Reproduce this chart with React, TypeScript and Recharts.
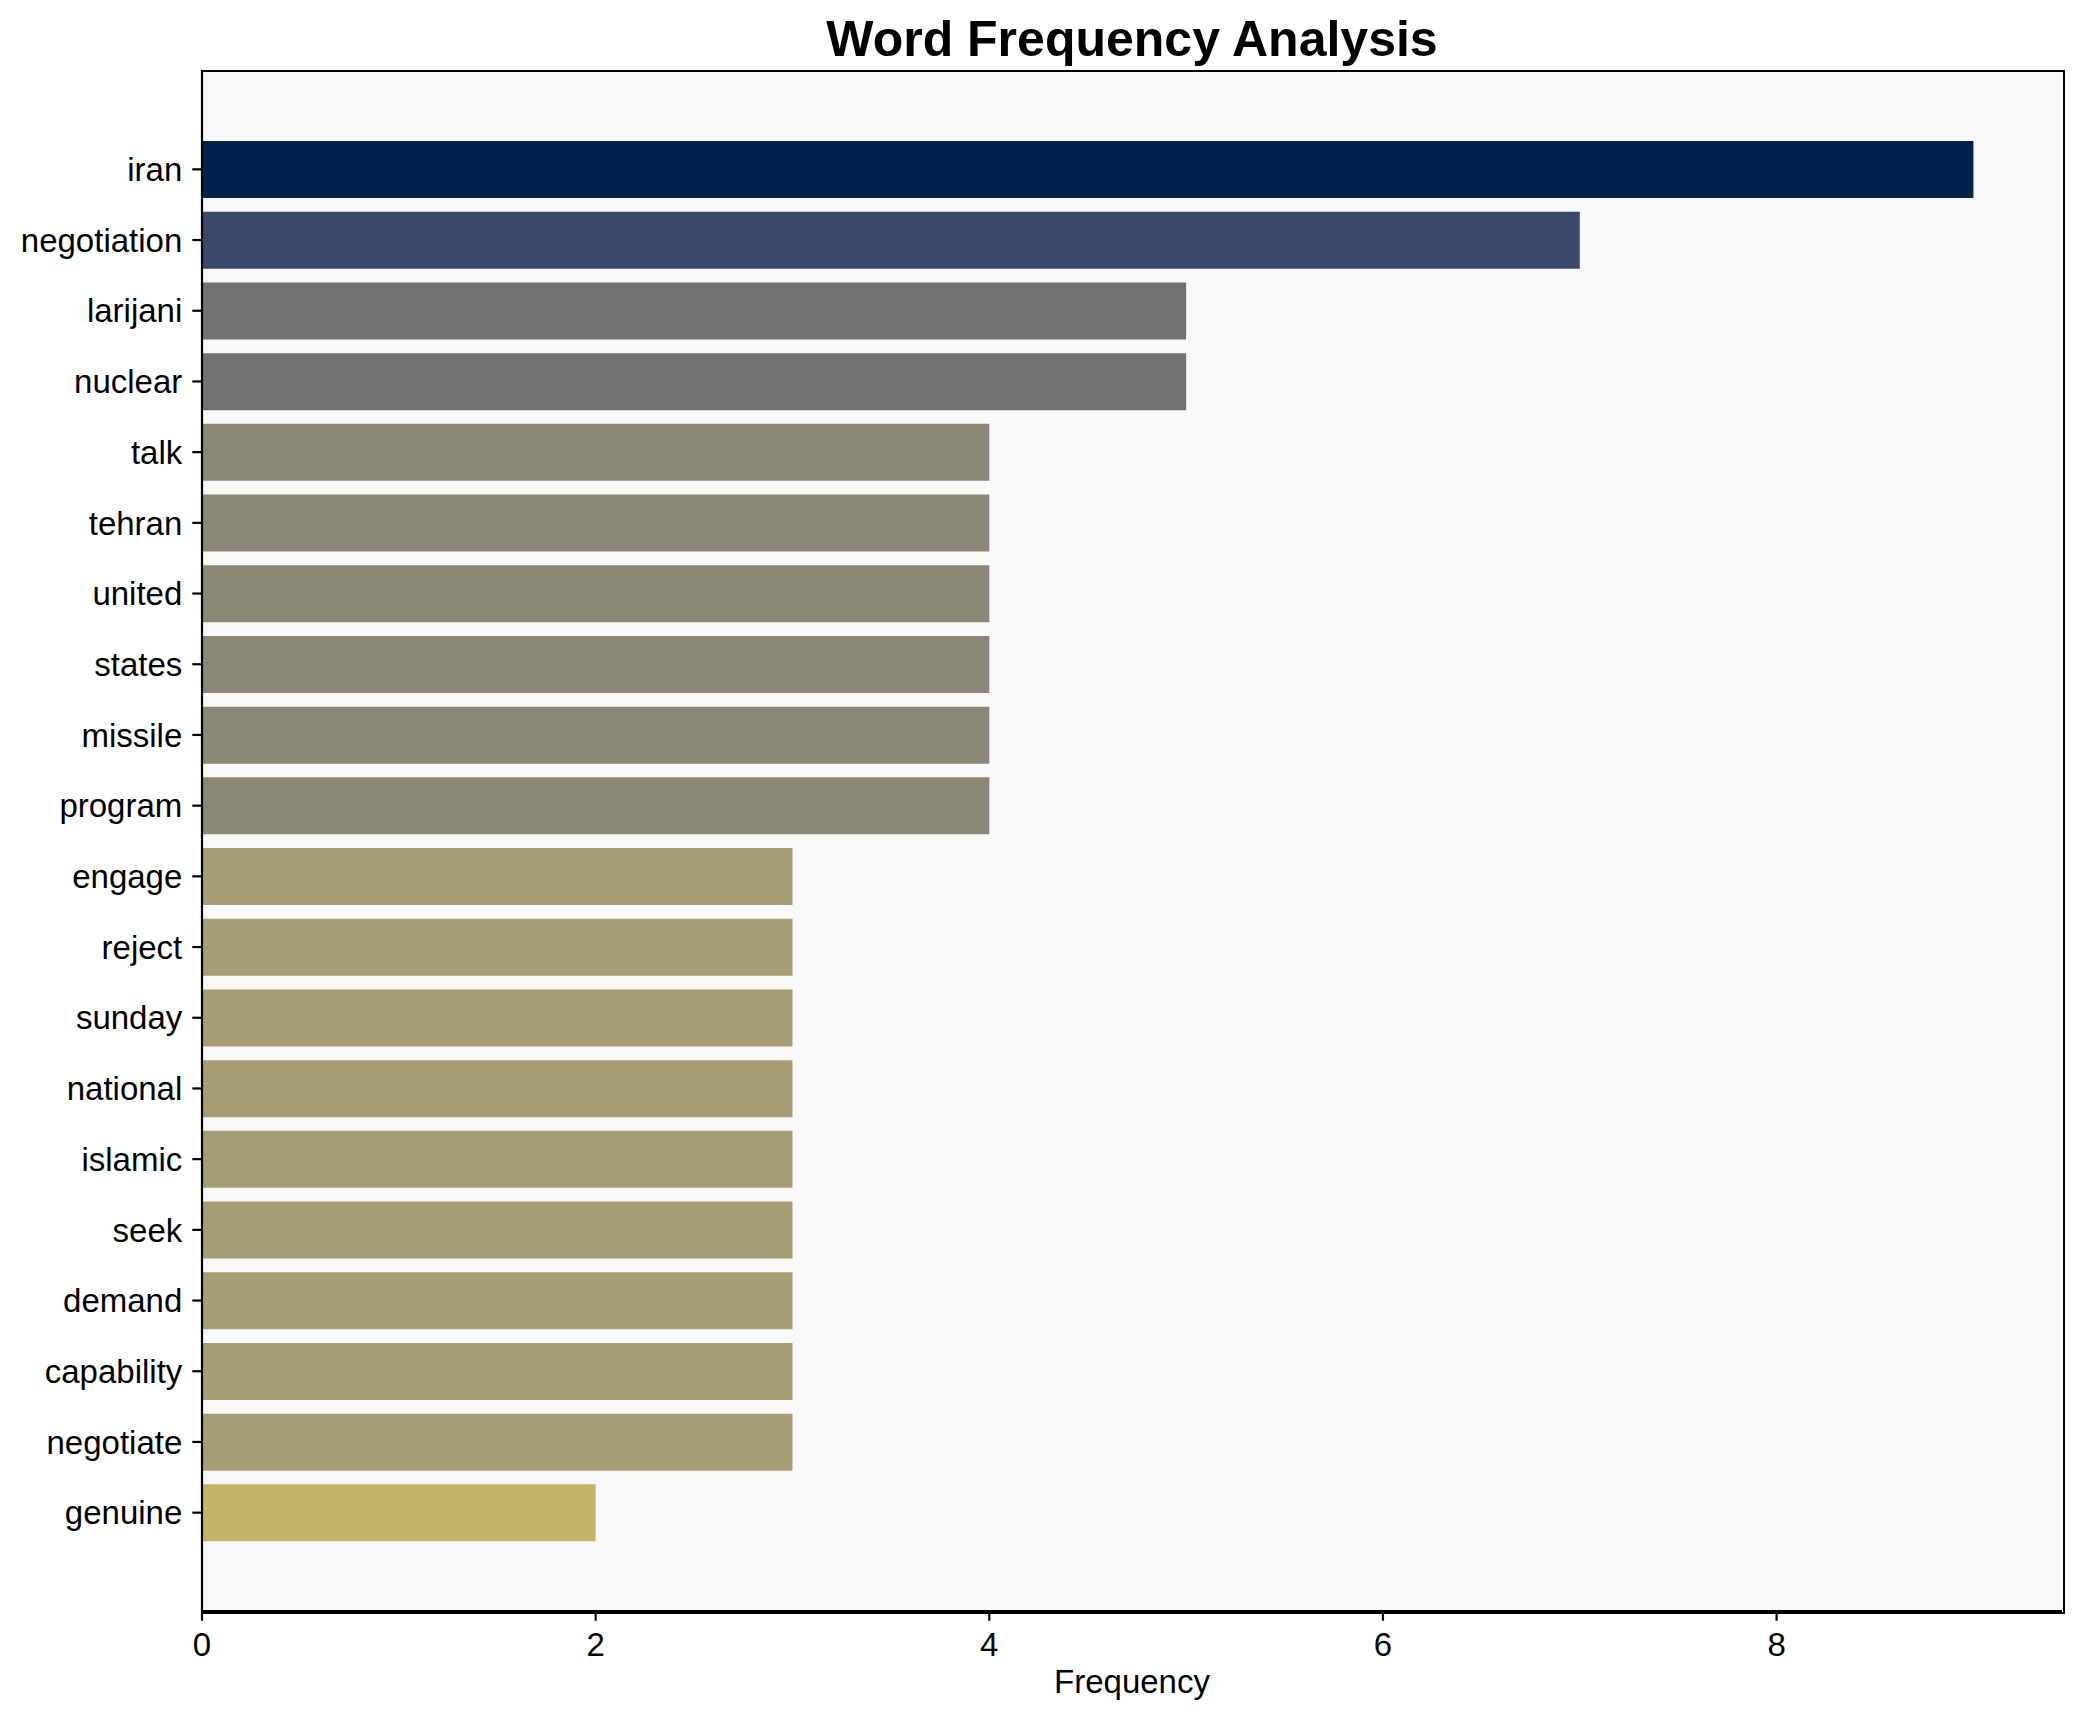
import React from 'react';
import { BarChart, Bar, XAxis, YAxis, Cell, CartesianGrid } from 'recharts';

const words = [
  'iran', 'negotiation', 'larijani', 'nuclear', 'talk', 'tehran', 'united', 'states', 'missile', 'program',
  'engage', 'reject', 'sunday', 'national', 'islamic', 'seek', 'demand', 'capability', 'negotiate', 'genuine',
];
const frequencies = [9, 7, 5, 5, 4, 4, 4, 4, 4, 4, 3, 3, 3, 3, 3, 3, 3, 3, 3, 2];
const barColors = [
  '#00224e', '#3a486b', '#707173', '#707173', '#8b8777', '#8b8777', '#8b8777', '#8b8777', '#8b8777', '#8b8777',
  '#a69d75', '#a69d75', '#a69d75', '#a69d75', '#a69d75', '#a69d75', '#a69d75', '#a69d75', '#a69d75', '#c4b46b',
];
const xTicks = [0, 2, 4, 6, 8];
const xDomain = [0, 9.45];

const data = words.map((w, i) => ({ word: w, freq: frequencies[i] }));

const FONT = '"Liberation Sans", Arial, sans-serif';

export default function App() {
  return (
    <div style={{ position: 'absolute', left: 0, top: 0, width: 2082, height: 1722, background: '#ffffff' }}>
      <div
        style={{
          position: 'absolute',
          left: 202,
          width: 1860,
          top: 14.4,
          textAlign: 'center',
          fontFamily: FONT,
          fontWeight: 'bold',
          fontSize: 50,
          lineHeight: '50px',
          color: '#000',
        }}
      >
        Word Frequency Analysis
      </div>
      <BarChart
        width={2082}
        height={1722}
        data={data}
        layout="vertical"
        margin={{ top: 71, right: 20, bottom: 11, left: 2 }}
        barCategoryGap="10%"
      >
        <CartesianGrid fill="#f8f8f8" stroke="none" horizontal={false} vertical={false} />
        <XAxis
          type="number"
          dataKey="freq"
          domain={xDomain}
          ticks={xTicks}
          allowDataOverflow
          height={100}
          tickSize={9.7}
          tickMargin={12}
          axisLine={{ stroke: '#000', strokeWidth: 2.2 }}
          tickLine={{ stroke: '#000', strokeWidth: 2.2 }}
          tick={{ fill: '#000', fontSize: 33, fontFamily: FONT }}
          label={(props: any) => {
            const vb = props.viewBox || {};
            return (
              <text
                x={(vb.x ?? 202) + (vb.width ?? 1860) / 2}
                y={1693}
                textAnchor="middle"
                fontSize={33}
                fontFamily={FONT}
                fill="#000"
              >
                Frequency
              </text>
            );
          }}
        />
        <YAxis
          type="category"
          dataKey="word"
          width={200}
          padding={{ top: 63, bottom: 63 }}
          tickSize={9.7}
          tickMargin={10}
          interval={0}
          axisLine={{ stroke: '#000', strokeWidth: 2.2 }}
          tickLine={{ stroke: '#000', strokeWidth: 2.2 }}
          tick={{ fill: '#000', fontSize: 33, fontFamily: FONT }}
        />
        <Bar dataKey="freq" isAnimationActive={false}>
          {data.map((d, i) => (
            <Cell key={d.word} fill={barColors[i]} />
          ))}
        </Bar>
      </BarChart>
      <div
        style={{
          position: 'absolute',
          left: 200.9,
          top: 69.9,
          width: 1860,
          height: 1540,
          border: '2.2px solid #000',
          boxSizing: 'content-box',
          pointerEvents: 'none',
        }}
      />
    </div>
  );
}
